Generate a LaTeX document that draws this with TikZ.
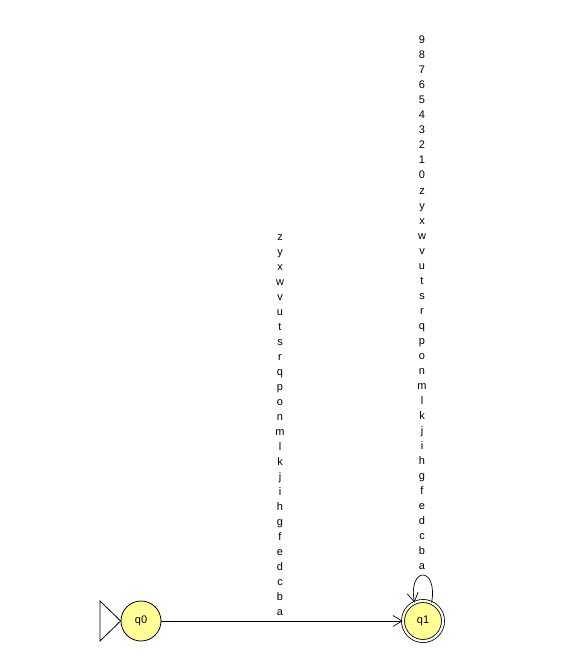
\documentclass[tikz,border=0pt]{standalone}
\usepackage{fontspec}
\setmainfont{Liberation Sans}
\usetikzlibrary{arrows.meta}
\definecolor{stfill}{RGB}{255,255,150}
\tikzset{
  state/.style={circle,draw=black,line width=0.8pt,fill=stfill,minimum size=40pt,inner sep=0pt,font=\fontsize{11}{13}\selectfont},
  lab/.style={anchor=base,inner sep=0pt,font=\fontsize{11}{13}\selectfont},
  trans/.style={line width=0.7pt,-{Straight Barb[length=9pt,width=11pt,line width=0.7pt]}}
}
\begin{document}
\begin{tikzpicture}[x=1pt,y=-1pt]
\useasboundingbox (0,0) rectangle (578,668);
\node[state] (q0) at (141,621) {q0};
\node[state,double,double distance=2.2pt] (q1) at (423,621) {q1};
% initial triangle
\coordinate (t1) at (100,601);
\coordinate (t2) at (100,641);
\draw[line width=0.8pt] (t1) -- (q0.west) -- (t2) -- cycle;
% transition q0 -> q1
\draw[trans] (q0) -- (q1);
% self loop
\draw[trans] (q1.65) .. controls (438,566) and (408,566) .. (q1.115);
% labels for q0 -> q1
\foreach \c [count=\i from 0] in {a,b,c,d,e,f,g,h,i,j,k,l,m,n,o,p,q,r,s,t,u,v,w,x,y,z}
  \node[lab] (e\i) at (280,{615-15*\i}) {\c};
% labels for loop
\foreach \c [count=\i from 0] in {a,b,c,d,e,f,g,h,i,j,k,l,m,n,o,p,q,r,s,t,u,v,w,x,y,z,0,1,2,3,4,5,6,7,8,9}
  \node[lab] (l\i) at (422,{569-15*\i}) {\c};
\end{tikzpicture}
\end{document}
